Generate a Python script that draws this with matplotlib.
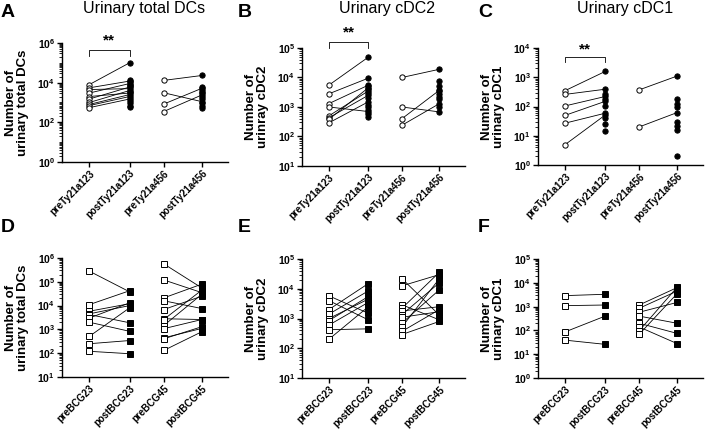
import numpy as np
import matplotlib
matplotlib.use("Agg")
import matplotlib.pyplot as plt
from matplotlib.ticker import LogLocator, NullFormatter

plt.rcParams['font.family'] = ['Liberation Sans', 'DejaVu Sans']
plt.rcParams['mathtext.fontset'] = 'custom'
plt.rcParams['mathtext.bf'] = 'Liberation Sans:bold'
plt.rcParams['mathtext.rm'] = 'Liberation Sans'

# ---- data ----
ty_labels = ['preTy21a123', 'postTy21a123', 'preTy21a456', 'postTy21a456']
bcg_labels = ['preBCG23', 'postBCG23', 'preBCG45', 'postBCG45']

# A: urinary total DCs (Ty21a)
a_pre123 = [8000, 5500, 4500, 3000, 2000, 1500, 1000, 800, 700, 550]
a_post123 = [100000, 12000, 5000, 9000, 3000, 6000, 4000, 2500, 2000, 1500]
a_post123_x = [14000, 11000, 8000, 7000, 3500, 1200, 900, 700, 600]
a_pre456 = [13000, 3100, 830, 350]
a_post456 = [23000, 1100, 5200, 2400]
a_post456_x = [6000, 4500, 3500, 3000, 2000, 1500, 900, 700, 550]

# B: urinary cDC2 (Ty21a)
b_pre123 = [5500, 2800, 1300, 1000, 500, 430, 380, 290]
b_post123 = [49000, 9500, 5500, 700, 3500, 2500, 4500, 1500]
b_post123_x = [5000, 4000, 3000, 2000, 1200, 1000, 800, 600, 450]
b_pre456 = [10000, 1000, 400, 240]
b_post456 = [19000, 680, 3700, 1300]
b_post456_x = [7400, 5000, 3500, 2800, 2200, 1800, 1000]

# C: urinary cDC1 (Ty21a)
c_pre123 = [350, 260, 105, 50, 27, 5]
c_post123 = [1580, 390, 220, 150, 59, 51]
c_post123_x = [260, 180, 105, 42, 25, 14]
c_pre456 = [370, 20]
c_post456 = [1100, 62]
c_post456_x = [180, 125, 100, 30, 22, 16, 2]

# D: urinary total DCs (BCG)
d_pre23 = [280000, 11000, 5800, 4500, 4200, 3000, 2000, 510, 250, 120]
d_post23 = [38000, 42000, 12000, 10000, 1900, 13000, 830, 8000, 340, 95]
d_pre45 = [570000, 120000, 21000, 16000, 6800, 2800, 2600, 1450, 1070, 440, 400, 130]
d_post45 = [55000, 35000, 80000, 7500, 25000, 2600, 45000, 30000, 2600, 1100, 1300, 800]

# E: urinary cDC2 (BCG)
e_pre23 = [5800, 4000, 2000, 1400, 1000, 850, 600, 420, 200]
e_post23 = [1500, 900, 15000, 8500, 4500, 5500, 3500, 450, 2500]
e_pre45 = [22000, 12500, 2900, 2200, 1800, 1350, 1100, 700, 520, 370, 290]
e_post45 = [1300, 30000, 900, 36000, 2500, 16000, 1700, 9300, 22000, 2000, 800]

# F: urinary cDC1 (BCG)
f_pre23 = [2900, 1100, 87, 39]
f_post23 = [3300, 1170, 400, 26]
f_pre45 = [1170, 850, 580, 400, 200, 140, 96, 68]
f_post45 = [6300, 4500, 1500, 200, 75, 28, 6500, 3500]

xpos = [0, 1, 1.85, 2.8]

fig = plt.figure(figsize=(7.07, 4.30), dpi=100)


def panel(rect, pre1, post1, ext1, pre2, post2, ext2, ylo, yhi, labels, ylab,
          marker, stars=None, step=1):
    ax = fig.add_axes(rect)
    ms = 3.8
    for (x0, x1, pre, post, ext) in [(xpos[0], xpos[1], pre1, post1, ext1),
                                     (xpos[2], xpos[3], pre2, post2, ext2)]:
        for p, q in zip(pre, post):
            ax.plot([x0, x1], [p, q], color='black', lw=0.6, zorder=1)
        ax.plot([x0] * len(pre), pre, ls='none', marker=marker, ms=ms,
                mfc='white', mec='black', mew=0.7, zorder=3)
        allpost = list(post) + list(ext)
        ax.plot([x1] * len(allpost), allpost, ls='none', marker=marker, ms=ms,
                mfc='black', mec='black', mew=0.7, zorder=3)
    ax.set_yscale('log')
    ax.set_ylim(10 ** ylo, 10 ** yhi)
    ax.set_xlim(-0.68, 3.45)
    majors = list(range(ylo, yhi + 1, step))
    ax.set_yticks([10 ** k for k in majors])
    ax.set_yticklabels([r'$\mathbf{10^{%d}}$' % k for k in majors], fontsize=7.5)
    ax.yaxis.set_minor_locator(LogLocator(base=10, subs=np.arange(1, 10), numticks=30))
    ax.yaxis.set_minor_formatter(NullFormatter())
    ax.set_xticks(xpos)
    ax.set_xticklabels(labels, rotation=45, ha='right', rotation_mode='anchor',
                       fontsize=7, fontweight='bold')
    for s in ['top', 'right']:
        ax.spines[s].set_visible(False)
    for s in ['left', 'bottom']:
        ax.spines[s].set_linewidth(1.0)
    ax.tick_params(axis='y', which='major', length=3.5, width=1.0, pad=1.5)
    ax.tick_params(axis='x', which='major', length=3.5, width=1.0, pad=1)
    ax.tick_params(axis='y', which='minor', length=2, width=0.6)
    ax.set_ylabel(ylab, fontsize=9.5, fontweight='bold', linespacing=1.0)
    ax.yaxis.set_label_coords(-0.2, 0.5)
    if stars is not None:
        ytop, yend, ytxt = stars
        tr = ax.get_xaxis_transform()
        ax.plot([xpos[0], xpos[0], xpos[1], xpos[1]], [yend, ytop, ytop, yend],
                color='black', lw=0.6, transform=tr, clip_on=False)
        ax.text((xpos[0] + xpos[1]) / 2, ytxt, '**', transform=tr, ha='center',
                va='center', fontsize=11, fontweight='bold')
    return ax


panel([0.0877, 0.6233, 0.2348, 0.2767], a_pre123, a_post123, a_post123_x,
      a_pre456, a_post456, a_post456_x, 0, 6, ty_labels,
      'Number of\nurinary total DCs', 'o', stars=(0.94, 0.89, 1.02), step=2)
panel([0.4272, 0.614, 0.2306, 0.2744], b_pre123, b_post123, b_post123_x,
      b_pre456, b_post456, b_post456_x, 1, 5, ty_labels,
      'Number of\nurinray cDC2', 'o', stars=(1.05, 1.0, 1.13))
panel([0.761, 0.6163, 0.2334, 0.272], c_pre123, c_post123, c_post123_x,
      c_pre456, c_post456, c_post456_x, 0, 4, ty_labels,
      'Number of\nurinary cDC1', 'o', stars=(0.92, 0.88, 0.99))

panel([0.0877, 0.1233, 0.2348, 0.2767], d_pre23, d_post23, [],
      d_pre45, d_post45, [], 1, 6, bcg_labels,
      'Number of\nurinary total DCs', 's')
panel([0.4272, 0.1209, 0.2306, 0.2767], e_pre23, e_post23, [],
      e_pre45, e_post45, [], 1, 5, bcg_labels,
      'Number of\nurinary cDC2', 's')
panel([0.761, 0.1209, 0.2334, 0.2767], f_pre23, f_post23, [],
      f_pre45, f_post45, [], 0, 5, bcg_labels,
      'Number of\nurinary cDC1', 's')

# titles and panel letters
fig.text(144 / 707, 1 - 9 / 430, 'Urinary total DCs', ha='center', va='center', fontsize=11.5)
fig.text(387 / 707, 1 - 9 / 430, 'Urinary cDC2', ha='center', va='center', fontsize=11.5)
fig.text(625 / 707, 1 - 9 / 430, 'Urinary cDC1', ha='center', va='center', fontsize=11.5)

for letter, x, y in [('A', 1, 4), ('B', 238, 4), ('C', 478, 4),
                     ('D', 1, 219), ('E', 238, 219), ('F', 478, 219)]:
    fig.text(x / 707, 1 - y / 430, letter, ha='left', va='top', fontsize=14,
             fontweight='bold')

fig.savefig('out.png', dpi=100)
